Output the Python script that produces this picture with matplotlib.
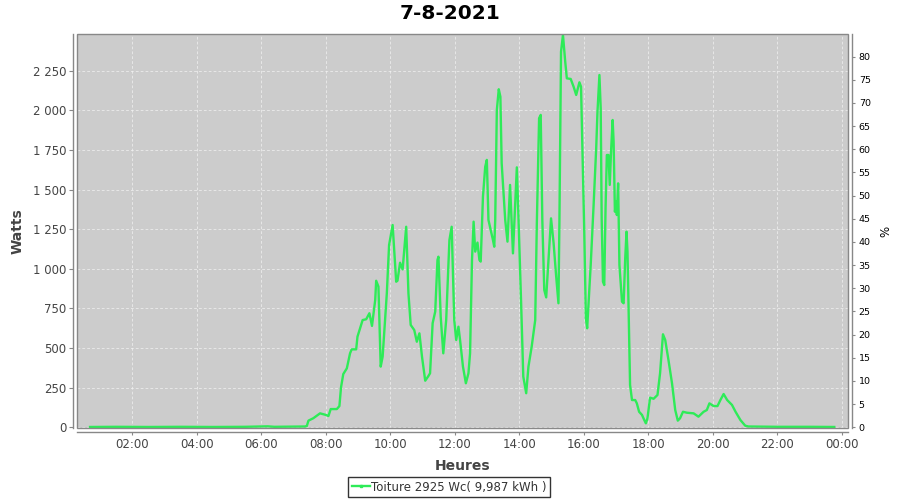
import matplotlib
matplotlib.use("Agg")
import matplotlib.pyplot as plt
from matplotlib.patches import Rectangle
from matplotlib.ticker import FuncFormatter, MultipleLocator
from matplotlib.lines import Line2D

title = "7-8-2021"
series_label = "Toiture 2925 Wc( 9,987 kWh )"
peak_wc = 2925

hours = [0.69, 1.5, 2.5, 3.5, 4.5, 5.5, 6.2, 6.4, 7.0, 7.35, 7.41, 7.46, 7.61, 7.82,
         8.00, 8.08, 8.15, 8.34, 8.42, 8.47, 8.54, 8.65, 8.75, 8.80, 8.94, 8.98,
         9.14, 9.25, 9.35, 9.43, 9.53, 9.56, 9.63, 9.70, 9.76, 9.89, 9.96,
         10.07, 10.18, 10.22, 10.30, 10.38, 10.49, 10.56, 10.63, 10.74, 10.82, 10.90, 10.98,
         11.08, 11.18, 11.23, 11.31, 11.39, 11.46, 11.49, 11.56, 11.64, 11.73, 11.83, 11.90, 11.98,
         12.04, 12.11, 12.16, 12.25, 12.34, 12.42, 12.47, 12.53, 12.58, 12.63, 12.70, 12.76, 12.80,
         12.87, 12.94, 12.99, 13.04, 13.11, 13.18, 13.22, 13.25, 13.30, 13.36, 13.41, 13.45,
         13.56, 13.63, 13.71, 13.80, 13.92, 13.97,
         14.05, 14.12, 14.21, 14.28, 14.38, 14.49, 14.54, 14.61, 14.66, 14.71, 14.77, 14.83, 14.90, 14.98,
         15.06, 15.14, 15.21, 15.24, 15.29, 15.35, 15.42, 15.47, 15.59, 15.68, 15.76, 15.80, 15.86, 15.91, 15.97,
         16.01, 16.06, 16.10, 16.14, 16.21, 16.30, 16.38, 16.42, 16.48, 16.52, 16.55, 16.59, 16.63, 16.67,
         16.71, 16.76, 16.80, 16.84, 16.89, 16.92, 16.96,
         17.00, 17.02, 17.06, 17.10, 17.18, 17.23, 17.28, 17.32, 17.35, 17.39, 17.43, 17.49, 17.59, 17.64,
         17.71, 17.80, 17.87, 17.92, 17.97,
         18.05, 18.16, 18.28, 18.36, 18.45, 18.52, 18.62, 18.73, 18.83, 18.91, 18.98,
         19.07, 19.19, 19.40, 19.55, 19.71, 19.81, 19.89,
         20.02, 20.14, 20.23, 20.33, 20.44, 20.59, 20.70, 20.85, 21.00, 21.1, 22.0, 23.0, 23.76]

watts = [2, 3, 2, 3, 2, 3, 6, 3, 4, 5, 8, 42, 57, 88,
         78, 71, 115, 115, 134, 252, 336, 372, 467, 492, 492, 572,
         677, 682, 720, 640, 804, 925, 888, 383, 446, 846, 1151,
         1277, 919, 925, 1039, 997, 1266, 846, 646, 614, 540, 593, 446,
         294, 324, 341, 657, 730, 1056, 1077, 698, 467, 677, 1182, 1266, 677,
         551, 635, 551, 383, 278, 341, 467, 1056, 1298, 1109, 1166, 1056, 1046,
         1456, 1645, 1688, 1309, 1246, 1182, 1140, 1309, 2003, 2134, 2087, 1667,
         1309, 1172, 1530, 1098, 1641, 1330,
         804, 320, 215, 383, 509, 677, 1288, 1951, 1972, 1309, 867, 820, 1056, 1319,
         1162, 951, 783, 1300, 2371, 2477, 2308, 2203, 2199, 2150, 2098, 2129, 2178, 2150, 1614,
         1235, 688, 625, 772, 1025, 1404, 1761, 1992, 2224, 2014, 1319, 919, 898, 1383,
         1719, 1719, 1530, 1740, 1940, 1803, 1361,
         1424, 1340, 1540, 1025, 793, 783, 1067, 1235, 1109, 688, 267, 172, 172, 151,
         98, 78, 46, 25, 57,
         187, 180, 204, 341, 587, 551, 425, 278, 109, 42, 57,
         98, 92, 88, 67, 98, 109, 151,
         134, 134, 172, 210, 172, 141, 98, 46, 10, 5, 3, 3, 2]

x_ticks = [2, 4, 6, 8, 10, 12, 14, 16, 18, 20, 22, 24]
x_tick_labels = ["02:00", "04:00", "06:00", "08:00", "10:00", "12:00",
                 "14:00", "16:00", "18:00", "20:00", "22:00", "00:00"]

plt.rcParams['font.family'] = ['DejaVu Sans']

GREEN = '#2eeb58'
GRAY = '#888888'
TXT = '#444444'

fig = plt.figure(figsize=(9, 5), dpi=100)
W, H = 900, 500
left, right, top, bottom = 77.3, 848.3, 34.3, 428.0
ax = fig.add_axes([left / W, 1 - bottom / H, (right - left) / W, (bottom - top) / H])
ax.set_facecolor('#cccccc')

ax.plot(hours, watts, color=GREEN, lw=1.7, zorder=3)

ax.set_xlim(0.295, 24.195)
ylo, yhi = -4.5, 2481
ax.set_ylim(ylo, yhi)

ax.set_xticks(x_ticks)
ax.set_xticklabels(x_tick_labels)
ax.yaxis.set_major_locator(MultipleLocator(250))
ax.yaxis.set_major_formatter(FuncFormatter(lambda v, p: f"{int(round(v)):,}".replace(",", " ")))

ax.grid(True, color='#f2f2f2', linestyle=(0, (4, 3)), linewidth=0.5)
ax.set_axisbelow(True)

for s in ['top', 'right']:
    ax.spines[s].set_visible(False)
for s in ['left', 'bottom']:
    ax.spines[s].set_position(('outward', 3))
    ax.spines[s].set_color(GRAY)
    ax.spines[s].set_linewidth(1)

ax.tick_params(axis='y', length=3, width=0.8, color=GRAY, labelsize=8.5, labelcolor=TXT, pad=2)
ax.tick_params(axis='x', length=2, width=0.8, color=GRAY, labelsize=8.5, labelcolor=TXT, pad=2)

ax.add_patch(Rectangle((0, 0), 1, 1, transform=ax.transAxes, fill=False,
                       edgecolor=GRAY, linewidth=1, zorder=5, clip_on=False))

ax.set_xlabel("Heures", fontsize=10, fontweight='bold', color=TXT, labelpad=6)
ax.set_ylabel("Watts", fontsize=10, fontweight='bold', color=TXT, labelpad=6)

ax2 = ax.twinx()
ax2.set_ylim(ylo / peak_wc * 100, yhi / peak_wc * 100)
ax2.yaxis.set_major_locator(MultipleLocator(5))
for s in ['top', 'left', 'bottom']:
    ax2.spines[s].set_visible(False)
ax2.spines['right'].set_position(('outward', 3))
ax2.spines['right'].set_color(GRAY)
ax2.spines['right'].set_linewidth(1)
ax2.tick_params(axis='y', length=2.5, width=0.8, color=GRAY, labelsize=6.8, labelcolor='black', pad=2)
ax2.set_ylabel("%", fontsize=8.5, color='black', labelpad=6)

fig.suptitle(title, fontsize=14.5, fontweight='bold', y=1 - 13.5 / H, va='center')

handle = Line2D([], [], color=GREEN, lw=1.7, marker='s', markersize=1.5)
leg = fig.legend([handle], [series_label], loc='center', bbox_to_anchor=(449 / W, 1 - 487 / H),
                 frameon=True, fancybox=False, fontsize=8.5, handlelength=1.5, handletextpad=0.1,
                 borderpad=0.3, borderaxespad=0)
leg.get_frame().set_edgecolor('black')
leg.get_frame().set_linewidth(1)
for t in leg.get_texts():
    t.set_color('#333333')

fig.savefig("out.png", dpi=100)
